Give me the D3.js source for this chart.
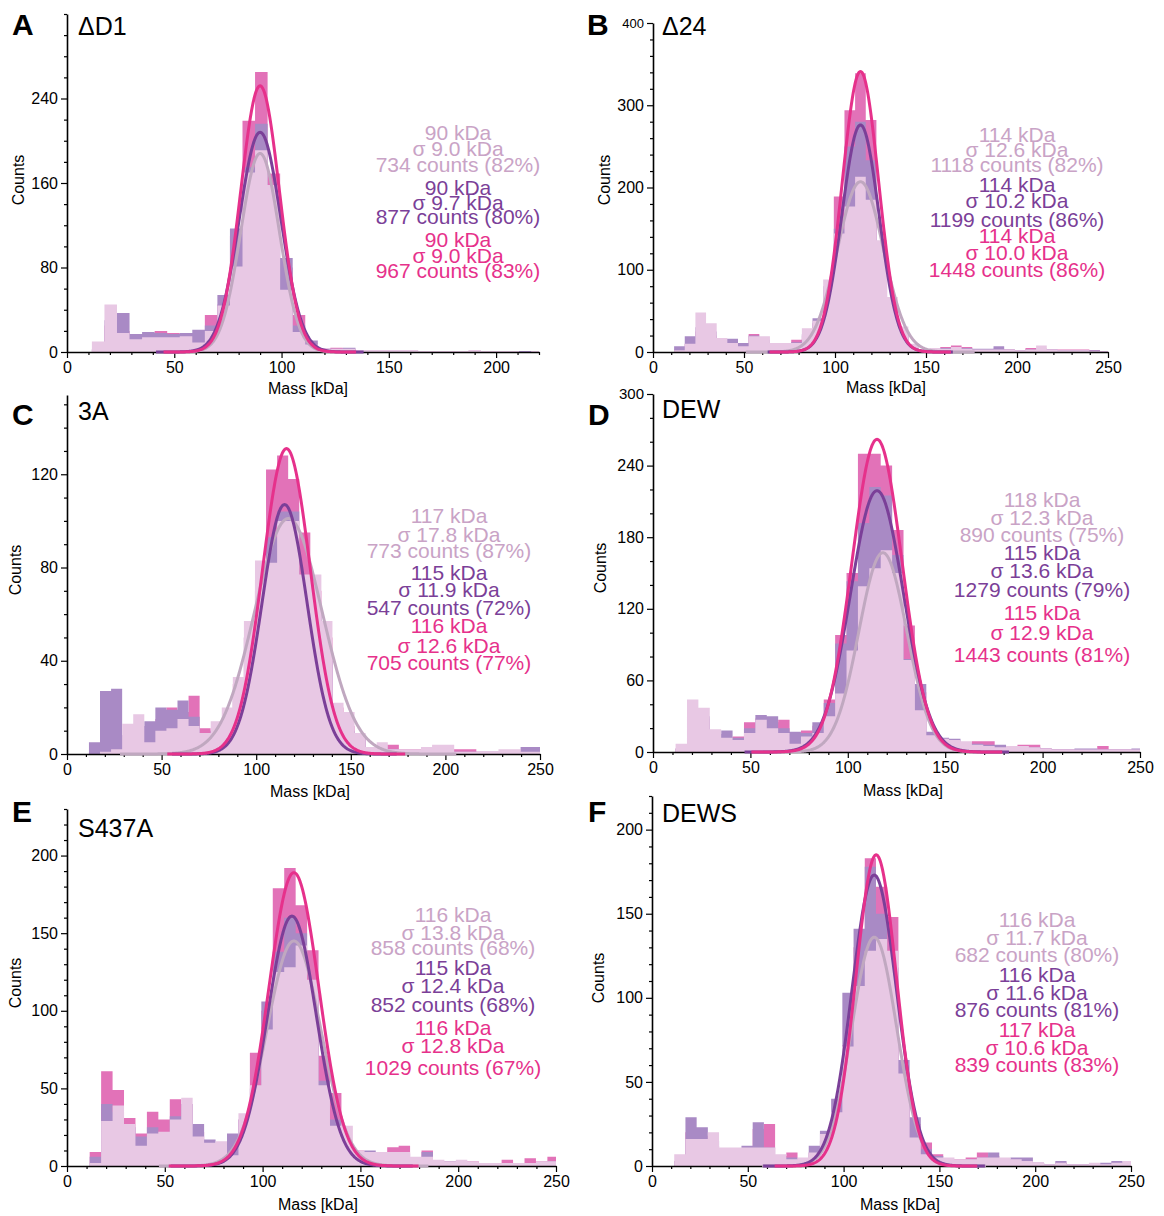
<!DOCTYPE html>
<html><head><meta charset="utf-8">
<script src="https://cdn.jsdelivr.net/npm/d3@7"></script>
<style>body{margin:0;background:#fff}svg{display:block}text{font-family:"Liberation Sans",Arial,Helvetica,sans-serif}</style>
</head><body><svg id="c" width="1164" height="1216"></svg>
<script>
// ---------- data ----------
const binStart = 11.6, binWidth = 5.85;   // kDa
const panelIds = ["A","B","C","D","E","F"];
const panelTitles = ["ΔD1","Δ24","3A","DEW","S437A","DEWS"];
const xMax = [220,250,250,250,250,250];
const yMax = [320,400,154,300,230,220];
const yMajorTicks = [[0,80,160,240],[0,100,200,300,400],[0,40,80,120],[0,60,120,180,240,300],[0,50,100,150,200],[0,50,100,150,200]];
const yMinorStep = [20,20,10,20,10,10];
const xTicks = [0,50,100,150,200,250];

// histogram counts per bin (light, purple, pink series)
const lightA  = [10,45,18,12,14,14,14,15,9,20,44,81,170,191,158,59,19,7,3,3,3,2,2,2,2,2,1,1,1,1,2,1,1,1,0,1];
const purpleA = [3,30,37,17,19,18,17,18,21,25,54,117,175,216,150,89,25,11,3,3,4,2,1,1,1,1,1,0,1,0,1,1,0,0,1,1];
const pinkA   = [2,25,20,10,15,20,18,17,18,35,45,110,219,265,169,80,35,8,3,4,3,2,1,1,1,1,0,1,0,1,0,1,1,0,0,1];

const lightB  = [2,10,48,35,17,11,7,19,19,11,11,11,29,38,88,144,177,213,185,136,67,31,10,2,5,4,6,4,3,3,3,3,2,3,8,3,2,2,2,1,1];
const purpleB = [7,19,30,25,16,16,11,20,15,10,10,12,22,41,80,150,250,280,233,125,55,25,8,2,4,5,5,5,4,4,7,3,2,3,4,3,2,2,2,2,1];
const pinkB   = [3,10,25,20,12,12,8,22,15,10,10,15,20,35,75,189,294,339,282,120,55,25,8,2,4,6,8,6,3,3,4,3,2,5,4,3,3,3,3,2,1];

const lightC  = [0,1,2,13,17,5,10,11,15,12,9,14,20,33,57,83,82,100,100,77,77,57,22,18,9,3,5,2,2,2,3,4,4,1,1,1,1,2,2,1,1];
const purpleC = [5,27,28,8,12,14,20,19,23,16,8,10,15,25,50,70,93,104,104,75,60,40,18,10,7,3,3,2,1,1,2,2,1,1,1,1,1,1,1,3,3];
const pinkC   = [1,5,5,8,10,10,15,20,18,25,11,10,12,30,50,75,122,128,118,95,70,50,20,12,7,3,4,4,2,2,3,3,2,2,2,1,1,1,1,2,2];

const lightD  = [7,44,37,19,12,10,16,27,20,16,7,13,16,30,49,85,139,154,169,150,77,35,14,11,10,9,6,5,4,5,5,4,3,2,2,2,2,2,2,2,2];
const purpleD = [3,30,30,15,18,12,20,31,30,20,17,16,25,41,91,143,192,222,215,165,78,57,17,12,11,8,7,6,6,4,4,4,3,2,2,3,3,2,2,2,3];
const pinkD   = [3,30,28,15,12,13,25,28,25,27,15,18,22,44,98,150,250,250,240,186,106,50,12,10,9,6,9,9,5,4,6,6,3,2,2,2,2,5,2,2,2];

const lightE  = [2,29,39,27,13,21,22,30,44,19,15,16,7,34,52,88,125,128,142,120,52,26,26,10,9,9,9,9,6,6,4,3,4,3,2,2,2,2,2,3,3];
const purpleE = [6,40,35,25,19,25,20,32,40,27,17,12,21,30,50,106,138,160,150,110,55,30,15,8,10,8,8,8,5,9,3,3,3,2,2,2,2,2,2,2,3];
const pinkE   = [9,61,49,31,21,35,30,43,40,22,14,12,15,30,73,100,179,192,168,139,71,47,15,10,8,8,12,13,5,10,3,3,3,3,2,2,4,2,5,3,6];

const lightF  = [7,16,16,20,11,11,11,11,11,7,4,5,8,19,32,71,107,128,135,128,55,17,7,5,5,4,4,5,5,5,4,3,2,1,2,1,1,2,1,2,3];
const purpleF = [3,29,23,15,8,10,12,26,11,5,5,4,12,21,40,103,141,178,150,118,63,29,10,6,4,3,4,5,8,4,5,5,2,1,3,1,1,1,2,3,2];
const pinkF   = [3,20,18,12,8,9,10,22,25,6,8,4,8,15,30,72,130,183,166,148,55,25,14,7,4,4,5,8,6,4,4,3,2,1,2,1,1,1,1,2,2];

// gaussian fits per panel: [light, purple, pink]
const fitMean   = [[90,90,90],[114,114,114],[117,115,116],[118,115,115],[116,115,116],[116,116,117]];
const fitSigma  = [[9.0,9.7,9.0],[12.6,10.2,10.0],[17.8,11.9,12.6],[12.3,13.6,12.9],[13.8,12.4,12.8],[11.7,11.6,10.6]];
const fitPeak   = [[188,208,252],[207,276,341],[101,107,131],[167,219,262],[145,161,189],[136,173,185]];
const fitCounts = [[734,877,967],[1118,1199,1448],[773,547,705],[890,1279,1443],[858,852,1029],[682,876,839]];
const fitPct    = [[82,80,83],[82,86,86],[87,72,77],[75,79,81],[68,68,67],[80,81,83]];

const histograms = [
  [lightA,purpleA,pinkA],[lightB,purpleB,pinkB],[lightC,purpleC,pinkC],
  [lightD,purpleD,pinkD],[lightE,purpleE,pinkE],[lightF,purpleF,pinkF]
];

// ---------- layout & style ----------
const layout = [
  {x0:67,x1:539,y0:352,y1:14,  letter:[12,35], title:[78,35], ylab:[18,180], xlab:[308,394], annX:458, annY:[140,156,172,195,210,224,247,263,278], topSize:16},
  {x0:653,x1:1108,y0:352,y1:23, letter:[587,35], title:[662,35], ylab:[604,180], xlab:[886,393], annX:1017, annY:[142,157,172,192,208,227,243,260,277], topSize:13},
  {x0:67,x1:540,y0:754,y1:395, letter:[12,425], title:[78,420], ylab:[15,570], xlab:[310,797], annX:449, annY:[523,542,558,580,597,615,633,653,670], topSize:16},
  {x0:653,x1:1140,y0:752,y1:394, letter:[588,425], title:[662,418], ylab:[600,568], xlab:[903,796], annX:1042, annY:[507,525,542,560,578,597,620,640,662], topSize:15},
  {x0:67,x1:556,y0:1166,y1:809, letter:[12,822], title:[78,837], ylab:[15,983], xlab:[318,1210], annX:453, annY:[922,940,955,975,993,1012,1035,1053,1075], topSize:16},
  {x0:652,x1:1131,y0:1166,y1:796, letter:[588,822], title:[662,822], ylab:[598,978], xlab:[900,1210], annX:1037, annY:[927,945,962,982,1000,1017,1037,1055,1072], topSize:16}
];
const barColor  = ["#e8c8e4","#a98ac5","#e272b8"];
const lineColor = ["#c0a8c0","#7b3f98","#e6318b"];
const textColor = ["#c9a3c6","#7b3f98","#e6318b"];

const svg = d3.select("#c");

panelIds.forEach((id,i)=>{
  const L = layout[i];
  const x = d3.scaleLinear().domain([0,xMax[i]]).range([L.x0,L.x1]);
  const y = d3.scaleLinear().domain([0,yMax[i]]).range([L.y0,L.y1]);
  const g = svg.append("g");
  const clipId = "clip"+id;
  svg.append("clipPath").attr("id",clipId).append("rect")
    .attr("x",L.x0).attr("y",L.y1-10).attr("width",L.x1-L.x0).attr("height",L.y0-L.y1+10);

  // bars: pink at back, purple, light in front
  [2,1,0].forEach(s=>{
    const vals = histograms[i][s];
    const pts = vals.map((v,k)=>[binStart+k*binWidth, v]);
    pts.push([binStart+vals.length*binWidth, vals[vals.length-1]]);
    const area = d3.area().x(d=>x(d[0])).y0(y(0)).y1(d=>y(d[1])).curve(d3.curveStepAfter);
    g.append("path").attr("d",area(pts)).attr("fill",barColor[s]).attr("clip-path",`url(#${clipId})`);
  });

  // axes
  const xt = xTicks.filter(t=>t<=xMax[i]);
  const xMinor = d3.range(0,xMax[i]+0.1,10).filter(t=>!xt.includes(t));
  const yMinor = d3.range(0,yMax[i]+0.1,yMinorStep[i]).filter(t=>!yMajorTicks[i].includes(t));

  const gx = g.append("g").attr("transform",`translate(0,${L.y0})`)
    .call(d3.axisBottom(x).tickValues(xt).tickSize(6).tickSizeOuter(0).tickPadding(4));
  const gxm = g.append("g").attr("transform",`translate(0,${L.y0})`)
    .call(d3.axisBottom(x).tickValues(xMinor).tickSize(3).tickSizeOuter(0).tickFormat(""));
  const gy = g.append("g").attr("transform",`translate(${L.x0},0)`)
    .call(d3.axisLeft(y).tickValues(yMajorTicks[i]).tickSize(6).tickSizeOuter(0).tickPadding(3));
  const gym = g.append("g").attr("transform",`translate(${L.x0},0)`)
    .call(d3.axisLeft(y).tickValues(yMinor).tickSize(3).tickSizeOuter(0).tickFormat(""));
  [gx,gxm,gy,gym].forEach(a=>{
    a.selectAll("path.domain").attr("stroke","#000").attr("stroke-width",1.6);
    a.selectAll("line").attr("stroke","#000").attr("stroke-width",1.2);
    a.selectAll("text").attr("font-size",16).attr("fill","#000")
      .attr("font-family",'"Liberation Sans",Arial,sans-serif');
  });
  gym.select("path.domain").remove(); gxm.select("path.domain").remove();
  gy.selectAll(".tick text").filter(d=>d===yMax[i]).attr("font-size",L.topSize);

  // gaussian fit curves
  [0,1,2].forEach(s=>{
    const mu=fitMean[i][s], sd=fitSigma[i][s], pk=fitPeak[i][s];
    const xs = d3.range(Math.max(0,mu-5*sd), Math.min(xMax[i],mu+5*sd), 0.25);
    const line = d3.line().x(v=>x(v)).y(v=>y(pk*Math.exp(-((v-mu)*(v-mu))/(2*sd*sd))));
    g.append("path").attr("d",line(xs)).attr("fill","none")
      .attr("stroke",lineColor[s]).attr("stroke-width",3);
  });

  // annotations
  [0,1,2].forEach(s=>{
    const lines = [`${fitMean[i][s]} kDa`, `σ ${fitSigma[i][s].toFixed(1)} kDa`, `${fitCounts[i][s]} counts (${fitPct[i][s]}%)`];
    lines.forEach((t,j)=>{
      g.append("text").attr("x",L.annX).attr("y",L.annY[s*3+j]).attr("text-anchor","middle")
        .attr("font-size",21).attr("fill",textColor[s]).text(t);
    });
  });

  // labels
  g.append("text").attr("x",L.letter[0]).attr("y",L.letter[1]).attr("font-size",30)
    .attr("font-weight","bold").attr("fill","#000").text(id);
  g.append("text").attr("x",L.title[0]).attr("y",L.title[1]).attr("font-size",25)
    .attr("fill","#000").text(panelTitles[i]);
  g.append("text").attr("transform",`translate(${L.ylab[0]+6},${L.ylab[1]}) rotate(-90)`)
    .attr("text-anchor","middle").attr("font-size",16).attr("fill","#000").text("Counts");
  g.append("text").attr("x",L.xlab[0]).attr("y",L.xlab[1]).attr("text-anchor","middle")
    .attr("font-size",16).attr("fill","#000").text("Mass [kDa]");
});
</script>
</body></html>
